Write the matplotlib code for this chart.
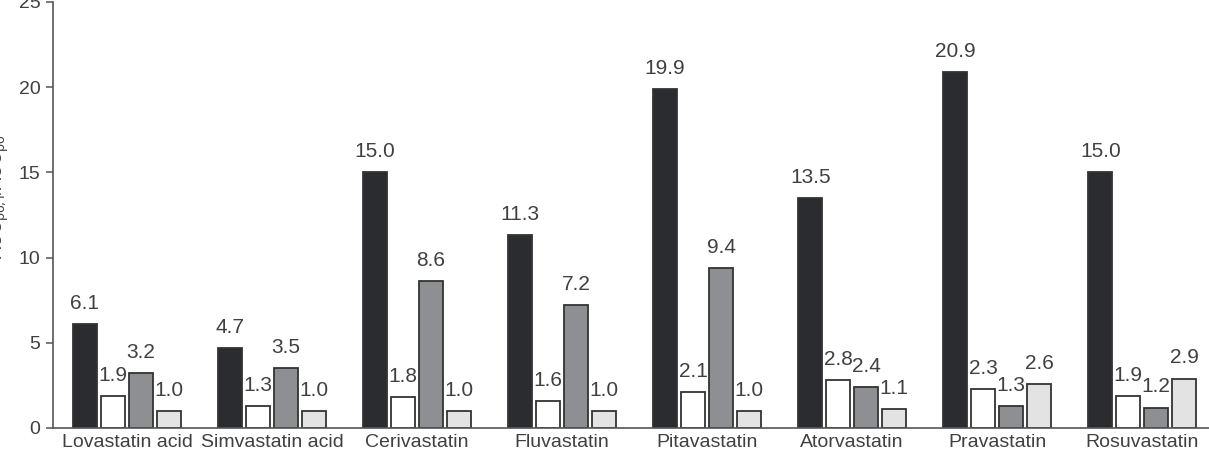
import matplotlib
matplotlib.use("Agg")
import matplotlib.pyplot as plt
import numpy as np

categories = ["Lovastatin acid", "Simvastatin acid", "Cerivastatin", "Fluvastatin",
              "Pitavastatin", "Atorvastatin", "Pravastatin", "Rosuvastatin"]
series1 = [6.1, 4.7, 15.0, 11.3, 19.9, 13.5, 20.9, 15.0]
series2 = [1.9, 1.3, 1.8, 1.6, 2.1, 2.8, 2.3, 1.9]
series3 = [3.2, 3.5, 8.6, 7.2, 9.4, 2.4, 1.3, 1.2]
series4 = [1.0, 1.0, 1.0, 1.0, 1.0, 1.1, 2.6, 2.9]
yticks = [0, 5, 10, 15, 20, 25]

plt.rcParams['font.family'] = ['Liberation Sans', 'DejaVu Sans']
text_color = '#404040'

fig = plt.figure(figsize=(12.09, 4.66), dpi=100)
ax = fig.add_axes([53/1209, 1-428/466, 1-53/1209, 426/466])

x = np.arange(len(categories))
width = 0.166
pitch = 0.193
colors = ['#2b2c30', '#ffffff', '#8e8f92', '#e3e3e3']
all_series = [series1, series2, series3, series4]
for i, (vals, col) in enumerate(zip(all_series, colors)):
    pos = x + (i - 1.5) * pitch
    ax.bar(pos, vals, width=width, color=col, edgecolor='#333333', linewidth=1.3)
    for p, v in zip(pos, vals):
        ax.annotate(f"{v:.1f}", xy=(p, v), xytext=(0, 8), textcoords='offset points',
                    ha='center', va='bottom', fontsize=15, color=text_color)

ax.set_xlim(-0.51, 7.46)
ax.set_ylim(0, 25)
ax.set_yticks(yticks)
ax.set_xticks(x)
ax.set_xticklabels(categories, fontsize=14, color=text_color)
ax.tick_params(axis='x', length=0, pad=4)
ax.tick_params(axis='y', length=5, width=1.1, color='#555555', labelsize=14, labelcolor=text_color, pad=4)
for s in ['top', 'right']:
    ax.spines[s].set_visible(False)
for s in ['left', 'bottom']:
    ax.spines[s].set_color('#555555')
    ax.spines[s].set_linewidth(1.2)

fig.text(11/1209, 1-197/466, r"AUC$_{\mathrm{po,i}}$/AUC$_{\mathrm{po}}$", rotation=90,
         ha='right', va='center', fontsize=13, color=text_color)

fig.savefig("out.png", dpi=100)
